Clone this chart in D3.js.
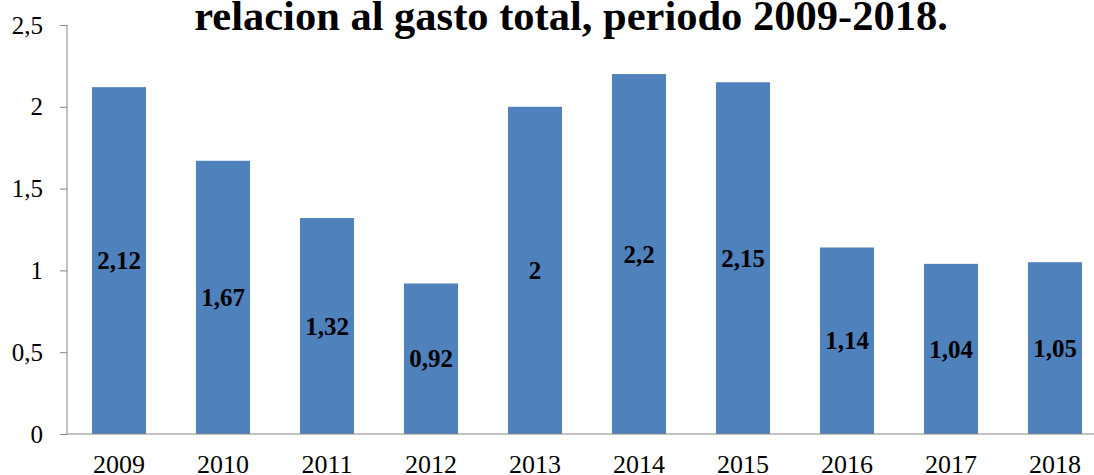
<!DOCTYPE html>
<html><head><meta charset="utf-8">
<script src="https://cdn.jsdelivr.net/npm/d3@7"></script>
<style>body{margin:0;background:#fff;overflow:hidden}svg{display:block}</style>
</head><body>
<script>
const categories = ["2009","2010","2011","2012","2013","2014","2015","2016","2017","2018"];
const values = [2.12,1.67,1.32,0.92,2,2.2,2.15,1.14,1.04,1.05];
const labels = ["2,12","1,67","1,32","0,92","2","2,2","2,15","1,14","1,04","1,05"];
const yTicks = [0,0.5,1,1.5,2,2.5];
const yTickLabels = ["0","0,5","1","1,5","2","2,5"];
const title = "relacion al gasto total, periodo 2009-2018.";

const W=1094,H=475;
const svg=d3.select("body").append("svg").attr("width",W).attr("height",H);
const x=d3.scaleBand().domain(categories).range([67,1107]).paddingInner(0.48).paddingOuter(0.24);
const y=d3.scaleLinear().domain([0,2.5]).range([434,25]);
const serif="'Liberation Serif','Times New Roman',serif";

svg.append("text").attr("x",571).attr("y",30).attr("text-anchor","middle")
  .style("font-family",serif).style("font-weight","bold").style("font-size","42.5px").text(title);

svg.selectAll("rect.bar").data(values).enter().append("rect")
  .attr("x",(d,i)=>x(categories[i])).attr("width",x.bandwidth())
  .attr("y",d=>y(d)).attr("height",d=>y(0)-y(d)).attr("fill","#4F81BD");

const ya=svg.append("g").attr("transform","translate(67,0)")
  .call(d3.axisLeft(y).tickValues(yTicks).tickFormat((d,i)=>yTickLabels[i]).tickSize(7).tickPadding(17));
ya.select(".domain").attr("stroke","#868686").attr("d","M0,25V434");
ya.selectAll(".tick line").attr("stroke","#868686");
ya.selectAll("text").style("font-family",serif).style("font-size","25px").attr("fill","#000");

const xa=svg.append("g").attr("transform","translate(0,434)")
  .call(d3.axisBottom(x).tickSize(0).tickPadding(21));
xa.select(".domain").attr("stroke","#868686").attr("d","M67,0H1107");
xa.selectAll("text").style("font-family",serif).style("font-size","26px").attr("fill","#000");

svg.selectAll("text.lbl").data(values).enter().append("text")
  .attr("x",(d,i)=>x(categories[i])+x.bandwidth()/2).attr("y",d=>(y(d)+y(0))/2)
  .attr("dy","0.35em").attr("text-anchor","middle")
  .style("font-family",serif).style("font-weight","bold").style("font-size","25px")
  .text((d,i)=>labels[i]);
</script>
</body></html>
